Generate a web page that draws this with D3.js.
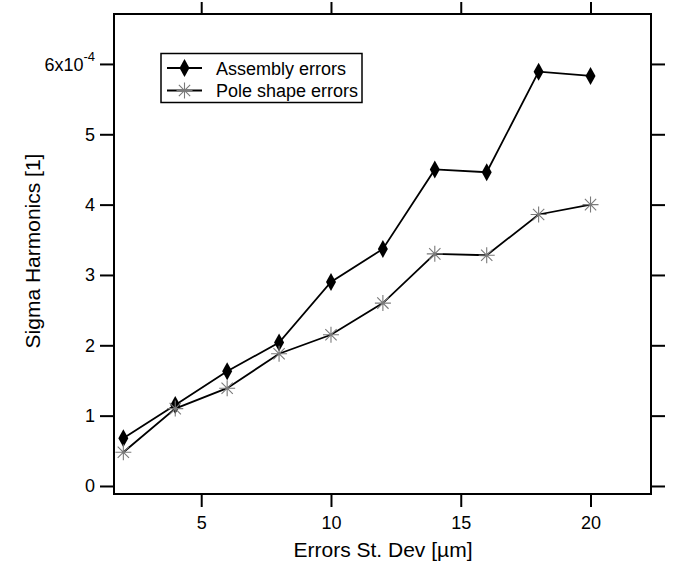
<!DOCTYPE html>
<html>
<head>
<meta charset="utf-8">
<script src="https://cdn.jsdelivr.net/npm/d3@7"></script>
<style>
  body { margin: 0; background: #fff; }
  text { font-family: "Liberation Sans", Arial, sans-serif; fill: #000; }
</style>
</head>
<body>
<div id="chart"></div>
<script>
// data (y in units of 1e-4)
var errorsX = [2, 4, 6, 8, 10, 12, 14, 16, 18, 20];
var assembly = [0.68, 1.15, 1.63, 2.04, 2.90, 3.37, 4.50, 4.46, 5.89, 5.83];
var poleShape = [0.48, 1.10, 1.39, 1.88, 2.15, 2.60, 3.30, 3.28, 3.86, 4.00];
var xTicks = [5, 10, 15, 20];
var yTicks = [0, 1, 2, 3, 4, 5, 6];
var seriesNames = ["Assembly errors", "Pole shape errors"];

var svgWidth = 678, svgHeight = 567;
var margin = { top: 14, right: 27, bottom: 73, left: 114 };
var width = svgWidth - margin.left - margin.right;
var height = svgHeight - margin.top - margin.bottom;

var svg = d3.select("#chart").append("svg")
  .attr("width", svgWidth)
  .attr("height", svgHeight);

var g = svg.append("g")
  .attr("transform", `translate(${margin.left}, ${margin.top})`);

var x = d3.scaleLinear().domain([1.64, 22.33]).range([0, width]);
var y = d3.scaleLinear().domain([-0.114, 6.71]).range([height, 0]);

// frame
g.append("rect")
  .attr("width", width).attr("height", height)
  .attr("fill", "none").attr("stroke", "#000").attr("stroke-width", 2);

function styleAxis(sel) {
  sel.select(".domain").remove();
  sel.selectAll(".tick line").attr("stroke", "#000").attr("stroke-width", 2);
  sel.selectAll(".tick text").attr("font-size", "18px")
    .attr("font-family", "Liberation Sans, Arial, sans-serif");
}

g.append("g").attr("transform", `translate(0, ${height})`)
  .call(d3.axisBottom(x).tickValues(xTicks).tickSize(13).tickPadding(9))
  .call(styleAxis);
g.append("g")
  .call(d3.axisTop(x).tickValues(xTicks).tickSize(12).tickFormat(""))
  .call(styleAxis);
g.append("g")
  .call(d3.axisLeft(y).tickValues(yTicks).tickSize(14).tickPadding(5)
    .tickFormat(d => d === 6 ? "" : d))
  .call(styleAxis);
g.append("g").attr("transform", `translate(${width}, 0)`)
  .call(d3.axisRight(y).tickValues(yTicks).tickSize(14).tickFormat(""))
  .call(styleAxis);

// 6x10^-4 label
var topLabel = g.append("text")
  .attr("x", -19).attr("y", y(6) + 7)
  .attr("text-anchor", "end").attr("font-size", "18px");
topLabel.append("tspan").text("6x10");
topLabel.append("tspan").attr("font-size", "13px").attr("dy", -10).text("-4");

// lines
var line = d3.line().x((d, i) => x(errorsX[i])).y(d => y(d));
[assembly, poleShape].forEach(function (s) {
  g.append("path").datum(s).attr("d", line)
    .attr("fill", "none").attr("stroke", "#000").attr("stroke-width", 1.8);
});

function diamond(sel, cx, cy) {
  sel.append("path")
    .attr("d", `M${cx},${cy - 9}L${cx + 5},${cy}L${cx},${cy + 9}L${cx - 5},${cy}Z`)
    .attr("fill", "#000");
}
function star(sel, cx, cy) {
  var r = 8, d = r * 0.7071;
  sel.append("path")
    .attr("d", `M${cx - r},${cy}H${cx + r}M${cx},${cy - r}V${cy + r}` +
      `M${cx - d},${cy - d}L${cx + d},${cy + d}M${cx - d},${cy + d}L${cx + d},${cy - d}`)
    .attr("stroke", "#7a7a7a").attr("stroke-width", 1.1).attr("fill", "none");
}

assembly.forEach((v, i) => diamond(g, x(errorsX[i]), y(v)));
poleShape.forEach((v, i) => star(g, x(errorsX[i]), y(v)));

// legend
var lg = svg.append("g");
lg.append("rect").attr("x", 161).attr("y", 53.5).attr("width", 201).attr("height", 49)
  .attr("fill", "#fff").attr("stroke", "#000").attr("stroke-width", 1.5);
var rowsY = [68, 90.5];
seriesNames.forEach(function (name, i) {
  lg.append("line").attr("x1", 167).attr("x2", 202)
    .attr("y1", rowsY[i]).attr("y2", rowsY[i])
    .attr("stroke", "#000").attr("stroke-width", 1.8);
  if (i === 0) diamond(lg, 184.5, rowsY[i]); else star(lg, 184.5, rowsY[i]);
  lg.append("text").attr("x", 216).attr("y", rowsY[i] + 6.5)
    .attr("font-size", "18px").text(name);
});

// axis titles
svg.append("text")
  .attr("x", 383).attr("y", 557)
  .attr("text-anchor", "middle").attr("font-size", "21px")
  .text("Errors St. Dev [µm]");
svg.append("text")
  .attr("transform", `translate(40, 251) rotate(-90)`)
  .attr("text-anchor", "middle").attr("font-size", "21px")
  .text("Sigma Harmonics [1]");
</script>
</body>
</html>
